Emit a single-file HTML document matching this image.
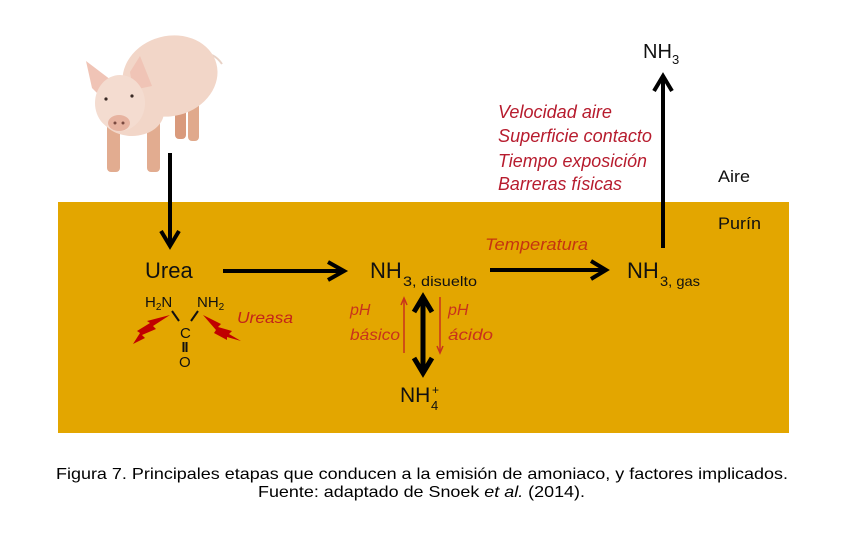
<!DOCTYPE html>
<html><head><meta charset="utf-8"><style>html,body{margin:0;padding:0;background:#fff}svg{display:block}</style></head>
<body>
<svg width="853" height="536" viewBox="0 0 853 536" xmlns="http://www.w3.org/2000/svg" font-family="'Liberation Sans', sans-serif">
<rect width="853" height="536" fill="#fff"/>
<rect x="58" y="202" width="731" height="231" fill="#E3A600"/>

<!-- Pig -->
<g>
  <path d="M212 55 Q218 58 222 64" stroke="#e8d2c6" stroke-width="2" fill="none"/>
  <rect x="175" y="95" width="11" height="44" rx="4" fill="#D99A7C"/>
  <rect x="188" y="95" width="11" height="46" rx="4" fill="#E0A98C"/>
  <ellipse cx="170" cy="76" rx="48" ry="40" transform="rotate(-15 170 76)" fill="#F2D6C8"/>
  <rect x="107" y="120" width="13" height="52" rx="4" fill="#E2AC90"/>
  <rect x="147" y="115" width="13" height="57" rx="4" fill="#E2AC90"/>
  <ellipse cx="132" cy="112" rx="32" ry="24" fill="#F2D6C8"/>
  <polygon points="86,61 111,80 103,99 92,88" fill="#F0C4B6"/>
  <polygon points="140,56 152,86 133,90 130,72" fill="#F0C4B6"/>
  <ellipse cx="120" cy="103" rx="25" ry="28" fill="#F4DCD0"/>
  <ellipse cx="119" cy="123" rx="11" ry="8" fill="#E7B3A0"/>
  <circle cx="115" cy="123" r="1.5" fill="#7a4a40"/>
  <circle cx="123" cy="123" r="1.5" fill="#7a4a40"/>
  <circle cx="106" cy="99" r="1.6" fill="#3a2a25"/>
  <circle cx="132" cy="96" r="1.6" fill="#3a2a25"/>
</g>

<!-- Black arrows -->
<g stroke="#000" fill="none" stroke-width="4">
  <line x1="170" y1="153" x2="170" y2="246"/>
  <polyline points="161,231 170,246 179,231"/>
  <line x1="223" y1="271" x2="344" y2="271"/>
  <polyline points="328,262 344,271 328,280"/>
  <line x1="490" y1="270" x2="606" y2="270"/>
  <polyline points="591,261 606,270 591,279"/>
  <line x1="663" y1="248" x2="663" y2="76"/>
  <polyline points="654,91 663,76 672,91"/>
  <line x1="423" y1="298" x2="423" y2="372" stroke-width="5"/>
  <polyline points="414,312 423,297 432,312" stroke-width="5"/>
  <polyline points="414,358 423,373 432,358" stroke-width="5"/>
</g>

<!-- Thin red arrows -->
<g stroke="#C8321C" fill="none" stroke-width="1.5">
  <line x1="404" y1="353" x2="404" y2="299"/>
  <polyline points="401,305 404,298 407,305"/>
  <line x1="440" y1="297" x2="440" y2="352"/>
  <polyline points="437,346 440,353 443,346"/>
</g>

<!-- Urea structure -->
<text x="145" y="278" font-size="22" fill="#111">Urea</text>
<text x="145" y="307" font-size="15" fill="#111">H<tspan font-size="10" dy="3">2</tspan><tspan dy="-3">N</tspan></text>
<text x="197" y="307" font-size="15" fill="#111">NH<tspan font-size="10" dy="3">2</tspan></text>
<g stroke="#111" stroke-width="2">
  <line x1="172" y1="311" x2="179" y2="321"/>
  <line x1="198" y1="311" x2="191" y2="321"/>
  <line x1="183.5" y1="342" x2="183.5" y2="352"/>
  <line x1="186.5" y1="342" x2="186.5" y2="352"/>
</g>
<text x="180" y="338" font-size="15" fill="#111">C</text>
<text x="179" y="367" font-size="15" fill="#111">O</text>
<polygon points="170,315 153,326 156,329 142,335 145,338 133,344 140,333 137,331 150,323 147,321" fill="#C00000"/>
<polygon points="203,315 221,324 218,327 232,331 229,334 241,341 227,337 227,340 214,333 216,330" fill="#C00000"/>
<text x="237" y="323" font-size="16" font-style="italic" fill="#C3241A" textLength="56" lengthAdjust="spacingAndGlyphs">Ureasa</text>

<!-- NH3 disuelto -->
<text x="370" y="278" font-size="22" fill="#111">NH</text>
<text x="403" y="286" font-size="14" fill="#111" textLength="74" lengthAdjust="spacingAndGlyphs">3, disuelto</text>

<!-- pH labels -->
<g font-size="16" font-style="italic" fill="#C8321C">
  <text x="350" y="315">pH</text>
  <text x="350" y="340" textLength="50" lengthAdjust="spacingAndGlyphs">básico</text>
  <text x="448" y="315">pH</text>
  <text x="448" y="340" textLength="45" lengthAdjust="spacingAndGlyphs">ácido</text>
</g>

<!-- NH4+ -->
<text x="400" y="402" font-size="21" fill="#111">NH</text>
<text x="431" y="410" font-size="13" fill="#111">4</text>
<text x="432" y="394" font-size="12" fill="#111">+</text>

<!-- Temperatura -->
<text x="485" y="250" font-size="17" font-style="italic" fill="#C5350F" textLength="103" lengthAdjust="spacingAndGlyphs">Temperatura</text>

<!-- NH3 gas -->
<text x="627" y="278" font-size="22" fill="#111">NH</text>
<text x="660" y="286" font-size="14" fill="#111" textLength="40" lengthAdjust="spacingAndGlyphs">3, gas</text>

<!-- NH3 top -->
<text x="643" y="58" font-size="20" fill="#111">NH</text>
<text x="672" y="64" font-size="13" fill="#111">3</text>

<!-- Factors -->
<g font-size="18" font-style="italic" fill="#B71C2E">
  <text x="498" y="118" textLength="114" lengthAdjust="spacingAndGlyphs">Velocidad aire</text>
  <text x="498" y="142" textLength="154" lengthAdjust="spacingAndGlyphs">Superficie contacto</text>
  <text x="498" y="167" textLength="149" lengthAdjust="spacingAndGlyphs">Tiempo exposición</text>
  <text x="498" y="190" textLength="124" lengthAdjust="spacingAndGlyphs">Barreras físicas</text>
</g>

<text x="718" y="182" font-size="17" fill="#111" textLength="32" lengthAdjust="spacingAndGlyphs">Aire</text>
<text x="718" y="229" font-size="17" fill="#111" textLength="43" lengthAdjust="spacingAndGlyphs">Purín</text>

<!-- Caption -->
<text x="56" y="479" font-size="16" fill="#000" textLength="732" lengthAdjust="spacingAndGlyphs">Figura 7. Principales etapas que conducen a la emisión de amoniaco, y factores implicados.</text>
<text x="258" y="497" font-size="16" fill="#000" textLength="327" lengthAdjust="spacingAndGlyphs">Fuente: adaptado de Snoek <tspan font-style="italic">et al.</tspan> (2014).</text>
</svg>
</body></html>
